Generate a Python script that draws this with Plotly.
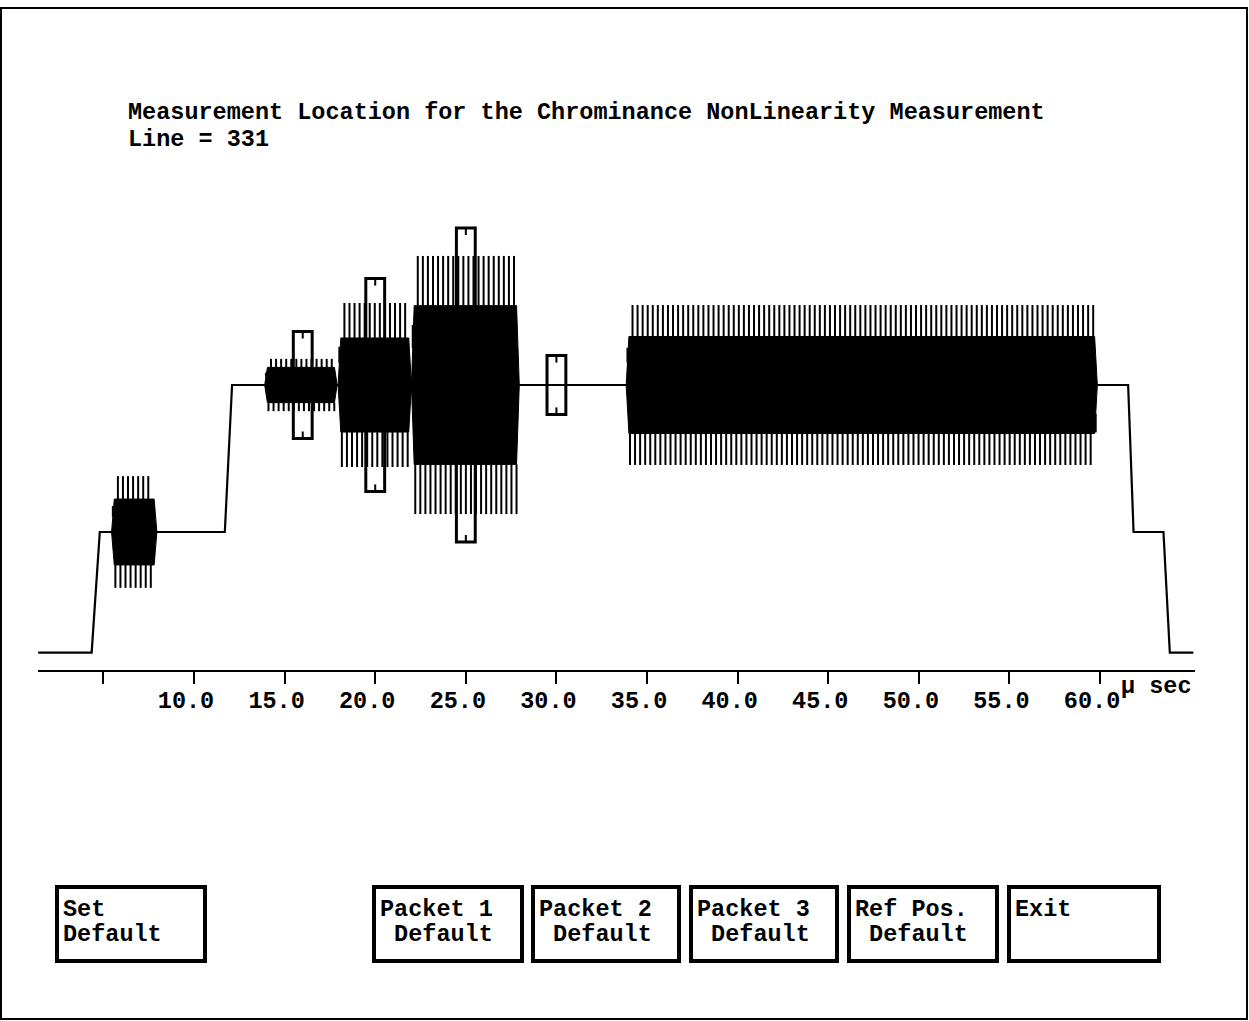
import plotly.graph_objects as go

# ---------------------------------------------------------------------------
# Test line 331: luminance staircase (time in µs, level in IRE)
# ---------------------------------------------------------------------------
step_time = [1.40, 4.35, 4.80, 11.70, 12.10, 61.55, 61.85, 63.50, 63.85, 65.15]
step_level = [-41, -41, 0, 0, 50, 50, 0, 0, -41, -41]

# Chrominance packets riding on the staircase
packet_start = [5.45, 13.90, 17.95, 22.00, 33.85]
packet_end = [7.95, 17.90, 22.00, 27.95, 59.85]
packet_base = [0, 50, 50, 50, 50]
packet_peak = [19.0, 8.9, 27.9, 43.9, 27.2]   # outer crest (IRE from base)
packet_core = [11.2, 6.0, 16.0, 27.0, 16.5]   # solid core of the trace (IRE)

# Measurement location markers (packet 1, 2, 3 and the reference position)
marker_time = [16.0, 20.0, 25.0, 30.0]
marker_half_height = [18.2, 36.2, 53.4, 10.0]
marker_center = 50

# Axis ticks
tick_values = [5, 10, 15, 20, 25, 30, 35, 40, 45, 50, 55, 60]
tick_labels = ["", "10.0", "15.0", "20.0", "25.0", "30.0", "35.0",
               "40.0", "45.0", "50.0", "55.0", "60.0"]

# Soft-key labels along the bottom of the screen
button_line1 = ["Set", "Packet 1", "Packet 2", "Packet 3", "Ref Pos.", "Exit"]
button_line2 = ["Default", "\u00a0Default", "\u00a0Default", "\u00a0Default",
                "\u00a0Default", ""]

title_lines = ["Measurement Location for the Chrominance NonLinearity Measurement",
               "Line = 331"]

# ---------------------------------------------------------------------------
# Page geometry (pixels)
# ---------------------------------------------------------------------------
W, H = 1249, 1021
PL, PR, PT, PB = 38, 1195, 200, 670
X_RANGE = [1.39, 65.24]
Y_RANGE = [-46.94, 112.93]
IRE_PER_PX = (Y_RANGE[1] - Y_RANGE[0]) / (PB - PT)

CARRIER_MHZ = 3.579545
PERIOD = 1.0 / CARRIER_MHZ
RAMP = 0.15

FONT = "Liberation Mono"
FS = 23.5


def paper_x(px):
    return (px - PL) / (PR - PL)


def paper_y(py):
    return (PB - py) / (PB - PT)


fig = go.Figure()

# staircase
fig.add_trace(go.Scatter(x=step_time, y=step_level, mode="lines",
                         line=dict(color="black", width=2.2),
                         hoverinfo="skip"))

# packets: solid core + individual carrier crests/troughs
for start, end, base, peak, core in zip(packet_start, packet_end, packet_base,
                                        packet_peak, packet_core):
    cx = [start, start + RAMP, end - RAMP, end, end - RAMP, start + RAMP, start]
    cy = [base, base + core, base + core, base, base - core, base - core, base]
    fig.add_trace(go.Scatter(x=cx, y=cy, mode="lines", fill="toself",
                             fillcolor="black", line=dict(color="black", width=1),
                             hoverinfo="skip"))
    xs, ys = [], []
    n = int((end - start) / PERIOD)
    for k in range(n):
        for frac, sign in ((0.25, 1), (0.75, -1)):
            t = start + (k + frac) * PERIOD
            g = max(0.0, min(1.0, (t - start) / RAMP, (end - t) / RAMP))
            xs += [t, t, None]
            ys += [base + sign * core * g, base + sign * peak * g, None]
    fig.add_trace(go.Scatter(x=xs, y=ys, mode="lines",
                             line=dict(color="black", width=2.0),
                             hoverinfo="skip"))

shapes = []
notch = 7 * IRE_PER_PX
for t, hh in zip(marker_time, marker_half_height):
    top, bot = marker_center + hh, marker_center - hh
    shapes.append(dict(type="rect", xref="x", yref="y", x0=t - 0.52, x1=t + 0.52,
                       y0=bot, y1=top, line=dict(color="black", width=3)))
    shapes.append(dict(type="line", xref="x", yref="y", x0=t, x1=t,
                       y0=top, y1=top - notch, line=dict(color="black", width=2)))
    shapes.append(dict(type="line", xref="x", yref="y", x0=t, x1=t,
                       y0=bot, y1=bot + notch, line=dict(color="black", width=2)))

# outer frame of the screen
shapes.append(dict(type="rect", xref="paper", yref="paper",
                   x0=paper_x(1), x1=paper_x(1247), y0=paper_y(1019), y1=paper_y(8),
                   line=dict(color="black", width=2)))

# soft keys
button_left = [57, 374, 533, 691, 849, 1009]
button_right = [205, 522, 679, 837, 997, 1159]
annotations = []
for bl, br, l1, l2 in zip(button_left, button_right, button_line1, button_line2):
    shapes.append(dict(type="rect", xref="paper", yref="paper",
                       x0=paper_x(bl), x1=paper_x(br), y0=paper_y(961), y1=paper_y(887),
                       line=dict(color="black", width=4)))
    for txt, base_px in ((l1, 916), (l2, 941)):
        if txt:
            annotations.append(dict(xref="paper", yref="paper", x=paper_x(bl + 4),
                                    y=paper_y(base_px - 6.2), xanchor="left",
                                    yanchor="middle", text=txt, showarrow=False,
                                    font=dict(family=FONT, size=FS, color="black",
                                              weight="bold")))

for txt, base_px in zip(title_lines, (119, 146)):
    annotations.append(dict(xref="paper", yref="paper", x=paper_x(126),
                            y=paper_y(base_px - 6.2), xanchor="left", yanchor="middle",
                            text=txt, showarrow=False,
                            font=dict(family=FONT, size=FS, color="black",
                                      weight="bold")))

# unit label at the right end of the time axis
annotations.append(dict(xref="paper", yref="paper", x=paper_x(1119),
                        y=paper_y(693 - 6.2), xanchor="left", yanchor="middle",
                        text="µ sec", showarrow=False,
                        font=dict(family=FONT, size=FS, color="black", weight="bold")))

fig.update_layout(
    width=W, height=H,
    margin=dict(l=PL, r=W - PR, t=PT, b=H - PB, pad=0),
    paper_bgcolor="white", plot_bgcolor="white",
    showlegend=False,
    shapes=shapes, annotations=annotations,
    xaxis=dict(range=X_RANGE, showgrid=False, zeroline=False,
               showline=True, linecolor="black", linewidth=2,
               ticks="outside", ticklen=12, tickwidth=2, tickcolor="black",
               tickvals=tick_values, ticktext=tick_labels, ticklabelshift=-8,
               ticklabelstandoff=-4,
               tickfont=dict(family=FONT, size=FS, color="black", weight="bold")),
    yaxis=dict(range=Y_RANGE, visible=False),
)

fig.write_html("out.html")
